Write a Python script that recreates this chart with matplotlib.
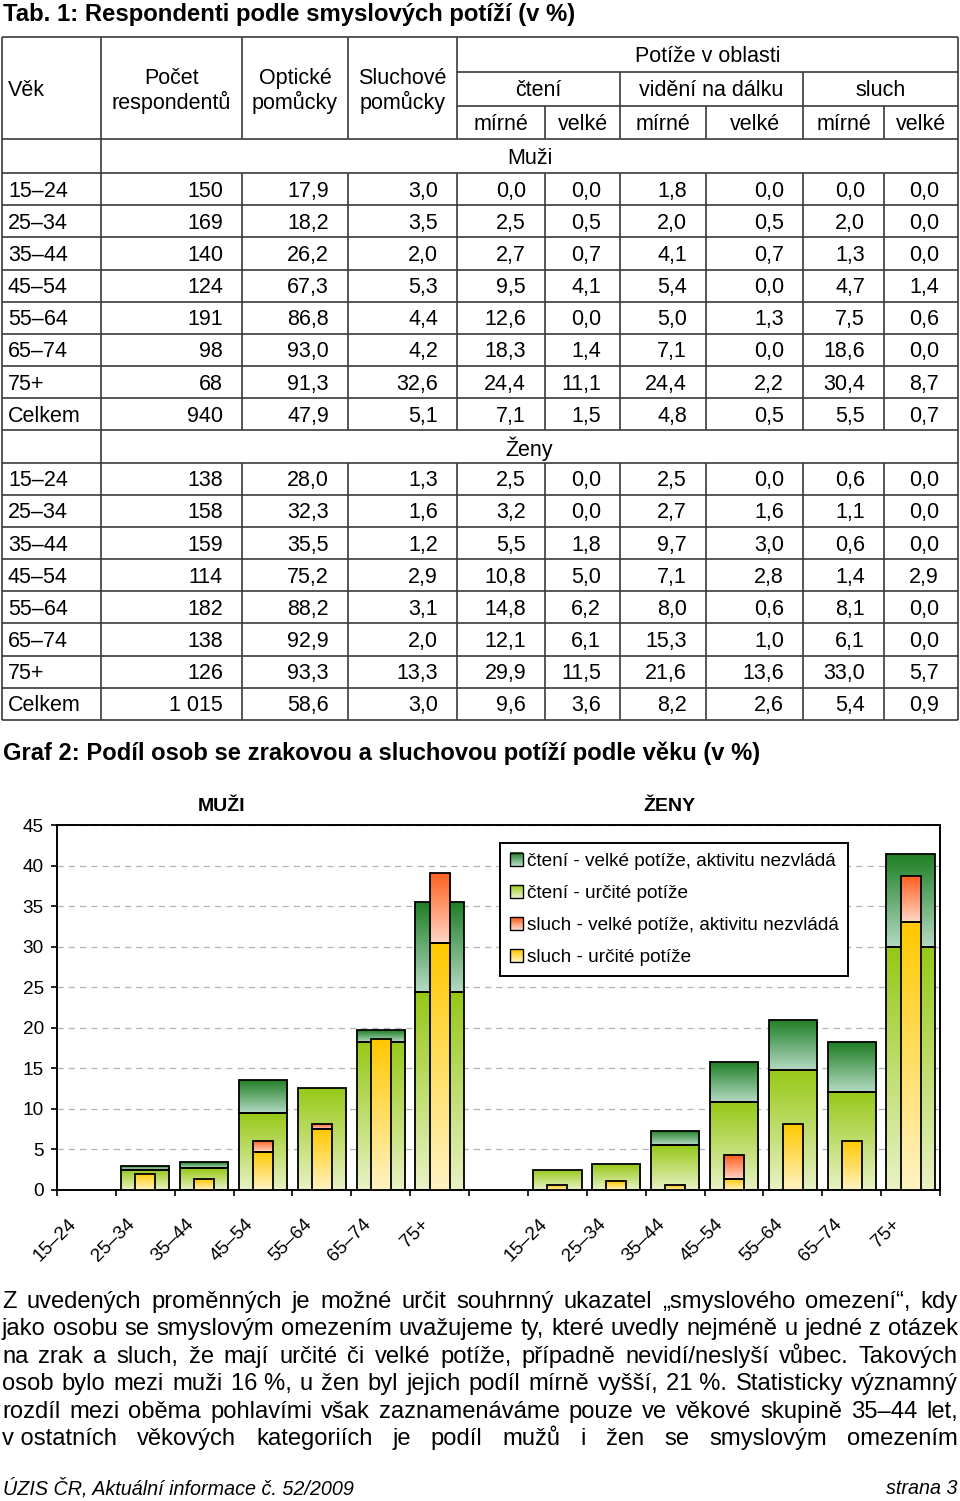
import numpy as np
import matplotlib
matplotlib.use('Agg')
import matplotlib.pyplot as plt
from matplotlib.colors import LinearSegmentedColormap
from matplotlib.patches import Rectangle
from matplotlib.legend_handler import HandlerBase
from matplotlib import font_manager

# --- data (Tab. 1) ---
vek = ['15–24', '25–34', '35–44', '45–54', '55–64', '65–74', '75+', 'Celkem']

muzi_pocet = [150, 169, 140, 124, 191, 98, 68, 940]
muzi_opticke = [17.9, 18.2, 26.2, 67.3, 86.8, 93.0, 91.3, 47.9]
muzi_sluchove = [3.0, 3.5, 2.0, 5.3, 4.4, 4.2, 32.6, 5.1]
muzi_cteni_mirne = [0.0, 2.5, 2.7, 9.5, 12.6, 18.3, 24.4, 7.1]
muzi_cteni_velke = [0.0, 0.5, 0.7, 4.1, 0.0, 1.4, 11.1, 1.5]
muzi_dalka_mirne = [1.8, 2.0, 4.1, 5.4, 5.0, 7.1, 24.4, 4.8]
muzi_dalka_velke = [0.0, 0.5, 0.7, 0.0, 1.3, 0.0, 2.2, 0.5]
muzi_sluch_mirne = [0.0, 2.0, 1.3, 4.7, 7.5, 18.6, 30.4, 5.5]
muzi_sluch_velke = [0.0, 0.0, 0.0, 1.4, 0.6, 0.0, 8.7, 0.7]

zeny_pocet = [138, 158, 159, 114, 182, 138, 126, 1015]
zeny_opticke = [28.0, 32.3, 35.5, 75.2, 88.2, 92.9, 93.3, 58.6]
zeny_sluchove = [1.3, 1.6, 1.2, 2.9, 3.1, 2.0, 13.3, 3.0]
zeny_cteni_mirne = [2.5, 3.2, 5.5, 10.8, 14.8, 12.1, 29.9, 9.6]
zeny_cteni_velke = [0.0, 0.0, 1.8, 5.0, 6.2, 6.1, 11.5, 3.6]
zeny_dalka_mirne = [2.5, 2.7, 9.7, 7.1, 8.0, 15.3, 21.6, 8.2]
zeny_dalka_velke = [0.0, 1.6, 3.0, 2.8, 0.6, 1.0, 13.6, 2.6]
zeny_sluch_mirne = [0.6, 1.1, 0.6, 1.4, 8.1, 6.1, 33.0, 5.4]
zeny_sluch_velke = [0.0, 0.0, 0.0, 2.9, 0.0, 0.0, 5.7, 0.9]

legend_labels = ['čtení - velké potíže, aktivitu nezvládá',
                 'čtení - určité potíže',
                 'sluch - velké potíže, aktivitu nezvládá',
                 'sluch - určité potíže']

odstavec = [
    'Z uvedených proměnných je možné určit souhrnný ukazatel „smyslového omezení“, kdy',
    'jako osobu se smyslovým omezením uvažujeme ty, které uvedly nejméně u jedné z otázek',
    'na zrak a sluch, že mají určité či velké potíže, případně nevidí/neslyší vůbec. Takových',
    'osob bylo mezi muži 16\u00a0%, u žen byl jejich podíl mírně vyšší, 21\u00a0%. Statisticky významný',
    'rozdíl mezi oběma pohlavími však zaznamenáváme pouze ve věkové skupině 35–44 let,',
    'v\u00a0ostatních věkových kategoriích je podíl mužů i žen se smyslovým omezením',
]

# barvy gradientu (spodek, vrsek)
g_cteni_v = ('#b4dac4', '#1d7d22')
g_cteni_m = ('#e9f2c6', '#96c816')
g_sluch_v = ('#ffd6c6', '#ff5e1c')
g_sluch_m = ('#fff3c4', '#ffc800')

font = 'Liberation Sans'
names = {f.name for f in font_manager.fontManager.ttflist}
narrow = 'Liberation Sans Narrow' if 'Liberation Sans Narrow' in names else font
plt.rcParams['font.family'] = [font, 'DejaVu Sans']

fig = plt.figure(figsize=(9.6, 15.01), dpi=100)
fig.patch.set_facecolor('white')

# stranka v pixelech
pg = fig.add_axes([0, 0, 1, 1])
pg.set_xlim(0, 960)
pg.set_ylim(1501, 0)
pg.axis('off')
r = fig.canvas.get_renderer()


def na_sirku(t, cil):
    # upravi velikost pisma, aby text mel danou sirku v px
    w = t.get_window_extent(r).width
    t.set_fontsize(t.get_fontsize() * cil / w)


# --- tabulka ---
fs = 15.5
lc = '#3a3a3a'
lw = 1.2
dy = 2
cols = [2, 101, 242, 348, 457, 545, 620, 706, 803, 884, 958]
rh = (720 - 173) / 17
rows_y = [139] + [173 + k * rh for k in range(18)]
sekce = [0, 9]  # radky Muzi / Zeny

t1 = pg.text(3, 14, 'Tab. 1: Respondenti podle smyslových potíží (v %)', fontsize=16,
             fontweight='bold', va='center')
na_sirku(t1, 572)

pg.hlines([37], 2, 958, color=lc, lw=lw)
pg.hlines([72, 106], 457, 958, color=lc, lw=lw)
pg.hlines(rows_y, 2, 958, color=lc, lw=lw)
pg.vlines([2, 101, 958], 37, 720, color=lc, lw=lw)
pg.vlines([242, 348, 457], 37, 139, color=lc, lw=lw)
pg.vlines([620, 803], 72, 139, color=lc, lw=lw)
pg.vlines([545, 706, 884], 106, 139, color=lc, lw=lw)
for k in range(18):
    if k in sekce:
        continue
    pg.vlines(cols[2:-1], rows_y[k], rows_y[k + 1], color=lc, lw=lw)

pg.text(8, 89 + dy, 'Věk', fontsize=fs, va='center')
pg.text(171.5, 89 + dy, 'Počet\nrespondentů', fontsize=fs, va='center', ha='center', linespacing=1.1)
pg.text(295, 89 + dy, 'Optické\npomůcky', fontsize=fs, va='center', ha='center', linespacing=1.1)
pg.text(402.5, 89 + dy, 'Sluchové\npomůcky', fontsize=fs, va='center', ha='center', linespacing=1.1)
pg.text(707.5, 55 + dy, 'Potíže v oblasti', fontsize=fs, va='center', ha='center')
pg.text(538.5, 89 + dy, 'čtení', fontsize=fs, va='center', ha='center')
pg.text(711.5, 89 + dy, 'vidění na dálku', fontsize=fs, va='center', ha='center')
pg.text(880.5, 89 + dy, 'sluch', fontsize=fs, va='center', ha='center')
for j in range(3):
    for i, t in enumerate(['mírné', 'velké']):
        a, b = cols[4 + 2 * j + i], cols[5 + 2 * j + i]
        pg.text((a + b) / 2, 123 + dy, t, fontsize=fs, va='center', ha='center')


def cislo(v):
    return f'{v:.1f}'.replace('.', ',')


def pocet(v):
    return f'{v:,}'.replace(',', ' ')


bloky = [('Muži', [muzi_pocet, muzi_opticke, muzi_sluchove, muzi_cteni_mirne, muzi_cteni_velke,
                   muzi_dalka_mirne, muzi_dalka_velke, muzi_sluch_mirne, muzi_sluch_velke]),
         ('Ženy', [zeny_pocet, zeny_opticke, zeny_sluchove, zeny_cteni_mirne, zeny_cteni_velke,
                   zeny_dalka_mirne, zeny_dalka_velke, zeny_sluch_mirne, zeny_sluch_velke])]
k = 0
for nazev, sloupce in bloky:
    yc = (rows_y[k] + rows_y[k + 1]) / 2 + dy
    pg.text(529.5, yc, nazev, fontsize=fs, va='center', ha='center')
    k += 1
    for i in range(len(vek)):
        yc = (rows_y[k] + rows_y[k + 1]) / 2 + dy
        pg.text(8, yc, vek[i], fontsize=fs, va='center')
        for j, s in enumerate(sloupce):
            txt = pocet(s[i]) if j == 0 else cislo(s[i])
            pg.text(cols[j + 2] - 19, yc, txt, fontsize=fs, va='center', ha='right')
        k += 1

# --- graf ---
t2 = pg.text(3, 753, 'Graf 2: Podíl osob se zrakovou a sluchovou potíží podle věku (v %)',
             fontsize=16, fontweight='bold', va='center')
na_sirku(t2, 757)

ax = fig.add_axes([57 / 960, 1 - 1190 / 1501, 883 / 960, 365 / 1501])
gfs = 13.7


def gbar(x, bottom, h, w, barvy, z):
    if h <= 0:
        return
    b = ax.bar(x, h, w, bottom=bottom, facecolor='none', edgecolor='black',
               linewidth=1.3, zorder=z + 0.1)[0]
    cm = LinearSegmentedColormap.from_list('g', list(barvy))
    im = ax.imshow(np.linspace(0, 1, 256).reshape(-1, 1), cmap=cm, origin='lower',
                   extent=[x - w / 2, x + w / 2, bottom, bottom + h], aspect='auto',
                   zorder=z, interpolation='bilinear')
    im.set_clip_path(b)


skupiny = [(0, muzi_cteni_mirne, muzi_cteni_velke, muzi_sluch_mirne, muzi_sluch_velke),
           (8, zeny_cteni_mirne, zeny_cteni_velke, zeny_sluch_mirne, zeny_sluch_velke)]
stredy = []
popisky = []
for start, cm_, cv_, sm_, sv_ in skupiny:
    for i in range(7):
        x = start + i + 0.5
        stredy.append(x)
        popisky.append(vek[i])
        gbar(x, 0, cm_[i], 0.82, g_cteni_m, 2)
        gbar(x, cm_[i], cv_[i], 0.82, g_cteni_v, 2)
        gbar(x, 0, sm_[i], 0.34, g_sluch_m, 3)
        gbar(x, sm_[i], sv_[i], 0.34, g_sluch_v, 3)

ax.set_xlim(0, 15)
ax.set_ylim(0, 45)
ax.set_yticks(range(0, 50, 5))
ax.set_xticks(range(16))
ax.set_xticklabels([])
ax.set_axisbelow(True)
ax.yaxis.grid(True, color='#b4b4b4', lw=0.9, ls=(0, (5, 4)))
for s in ax.spines.values():
    s.set_linewidth(1.4)
ax.tick_params(axis='both', direction='out', length=4.5, width=1.2, labelsize=gfs, pad=5)

for x, lab in zip(stredy, popisky):
    ax.text(x - 0.32, -0.07, lab, transform=ax.get_xaxis_transform(), rotation=45,
            rotation_mode='anchor', ha='right', va='top', fontsize=gfs)

ax.text(2.8, 47.3, 'MUŽI', fontsize=14, fontweight='bold', ha='center', va='center')
ax.text(10.4, 47.3, 'ŽENY', fontsize=14, fontweight='bold', ha='center', va='center')


class Grad:
    def __init__(self, barvy):
        self.barvy = barvy


class GradHandler(HandlerBase):
    def create_artists(self, legend, orig, xd, yd, width, height, fontsize, trans):
        cm = LinearSegmentedColormap.from_list('g', list(orig.barvy))
        n = 14
        out = []
        for q in range(n):
            out.append(Rectangle((-xd, -yd + height * q / n), width, height / n * 1.05,
                                 facecolor=cm(q / (n - 1)), edgecolor='none', transform=trans))
        out.append(Rectangle((-xd, -yd), width, height, facecolor='none',
                             edgecolor='black', lw=1.0, transform=trans))
        return out


leg = ax.legend([Grad(g_cteni_v), Grad(g_cteni_m), Grad(g_sluch_v), Grad(g_sluch_m)],
                legend_labels, handler_map={Grad: GradHandler()}, loc='upper left',
                bbox_to_anchor=((500 - 57) / 883, (1190 - 843) / 365), borderaxespad=0,
                fancybox=False, edgecolor='black', framealpha=1, fontsize=gfs,
                labelspacing=0.78, handlelength=0.7, handleheight=0.7,
                handletextpad=0.2, borderpad=0.5)
leg.get_frame().set_linewidth(1.4)
leg.set_zorder(10)

# --- odstavec (do bloku) ---
L, R = 2, 958


def sirka(line, size, fam):
    t = pg.text(0, 0, line.replace(' ', '\u00a0'), fontsize=size, family=fam)
    w = t.get_window_extent(r).width
    t.remove()
    return w


vel = 18
nat = max(sirka(l, vel, narrow) for l in odstavec)
if nat > (R - L) - 4:
    vel = vel * ((R - L) - 4) / nat

for n_, line in enumerate(odstavec):
    y = 1308 + n_ * 27.4
    slova = line.split(' ')
    tt = [pg.text(0, y, w, fontsize=vel, family=narrow, va='baseline') for w in slova]
    ws = [t.get_window_extent(r).width for t in tt]
    mezera = ((R - L) - sum(ws)) / (len(slova) - 1)
    x = L
    for t, w in zip(tt, ws):
        t.set_x(x)
        x += w + mezera

# paticka
fl = pg.text(3, 1488, 'ÚZIS ČR, Aktuální informace č. 52/2009', family=narrow,
             fontstyle='italic', fontsize=14, va='center')
na_sirku(fl, 351)
pg.text(958, 1488, 'strana 3', family=narrow, fontstyle='italic', fontsize=fl.get_fontsize(),
        va='center', ha='right')

fig.savefig('out.png', dpi=100)
